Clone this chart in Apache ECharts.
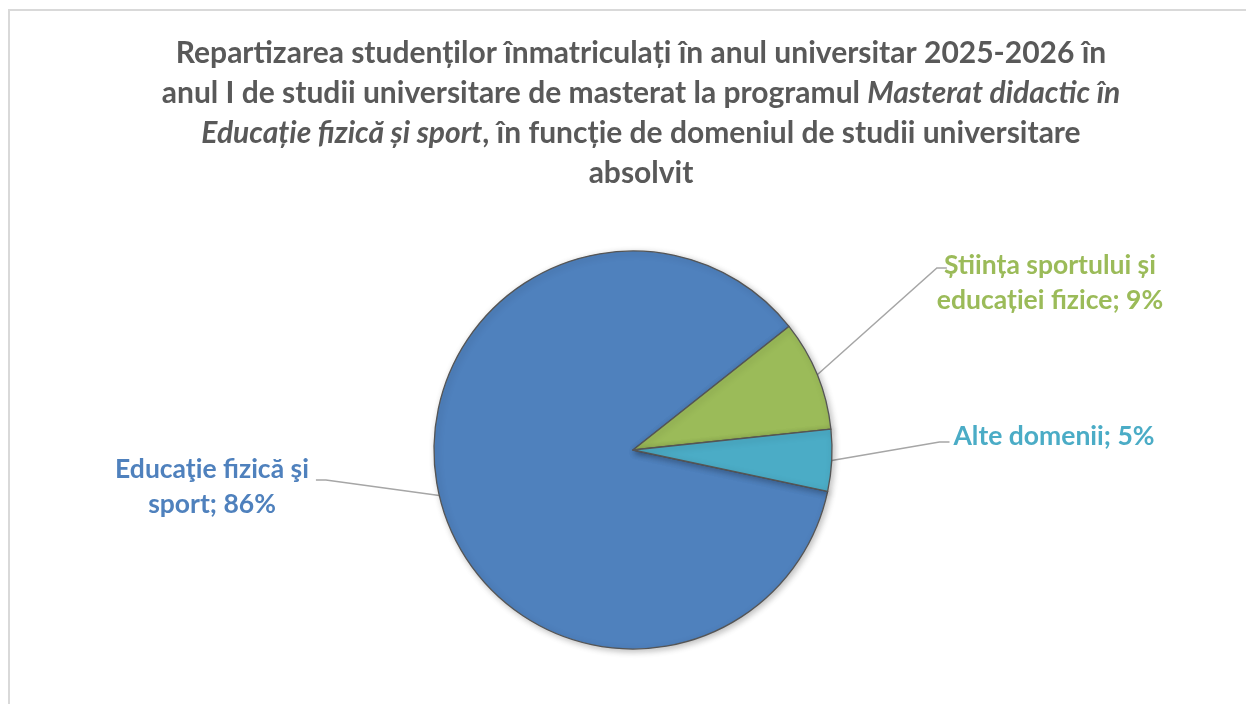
<!DOCTYPE html>
<html>
<head>
<meta charset="utf-8">
<script src="https://cdn.jsdelivr.net/npm/echarts@6/dist/echarts.min.js"></script>
<style>
  html, body { margin: 0; padding: 0; background: #fff; }
  #chart { width: 1246px; height: 704px; }
</style>
</head>
<body>
<div id="chart"></div>
<script>
// date
const categories = ['Educaţie fizică şi\nsport', 'Știința sportului și\neducației fizice', 'Alte domenii'];
const values = [86, 9, 5];

const titleLines = [
    'Repartizarea studenților înmatriculați în anul universitar 2025-2026 în',
    'anul I de studii universitare de masterat la programul {i|Masterat didactic în}',
    '{i|Educație fizică și sport}, în funcție de domeniul de studii universitare',
    'absolvit'
];

const colors = ['#4F81BD', '#9BBB59', '#4BACC6'];
const fontName = 'Lato';

// pozitia etichetelor (centru), capatul liniei si distanta fata de text
const labelPos = [
    { x: 212, y: 487, lineY: 480, side: 'left', gap: 7 },
    { x: 1050, y: 283, lineY: 268, side: 'right', gap: -10 },
    { x: 1054, y: 436, lineY: 442, side: 'right', gap: 4 }
];

let chart = echarts.init(document.getElementById('chart'));

let option = {
    backgroundColor: '#fff',
    color: colors,
    graphic: [{
        type: 'rect',
        shape: { x: 9, y: 10, width: 1400, height: 900 },
        style: { fill: 'none', stroke: '#d9d9d9', lineWidth: 2 },
        silent: true
    }],
    title: {
        text: titleLines.join('\n'),
        left: 636,
        top: 28,
        textAlign: 'center',
        textStyle: {
            color: '#595959',
            fontFamily: fontName,
            fontWeight: 'bold',
            fontSize: 30,
            lineHeight: 40,
            rich: {
                i: {
                    color: '#595959',
                    fontFamily: fontName,
                    fontWeight: 'bold',
                    fontStyle: 'italic',
                    fontSize: 30,
                    lineHeight: 40
                }
            }
        }
    },
    series: [{
        type: 'pie',
        center: [633, 450],
        radius: 199,
        startAngle: -12,
        clockwise: true,
        avoidLabelOverlap: false,
        data: categories.map((name, i) => ({
            name: name,
            value: values[i],
            label: { color: colors[i] }
        })),
        itemStyle: {
            borderColor: '#555',
            borderWidth: 1.3,
            shadowBlur: 6,
            shadowColor: 'rgba(0,0,0,0.25)',
            shadowOffsetX: 2,
            shadowOffsetY: 2
        },
        label: {
            show: true,
            position: 'outside',
            fontFamily: fontName,
            fontWeight: 'bold',
            fontSize: 26.5,
            lineHeight: 35,
            align: 'center',
            formatter: (p) => p.name + '; ' + Math.round(p.percent) + '%'
        },
        labelLine: {
            show: true,
            length: 20,
            length2: 10,
            lineStyle: { color: '#a6a6a6', width: 1.5 }
        },
        labelLayout: function (params) {
            let pos = labelPos[params.dataIndex];
            let w = params.labelRect.width;
            let start = params.labelLinePoints ? params.labelLinePoints[0] : [633, 450];
            let endX, elbowX;
            if (pos.side === 'left') {
                endX = pos.x + w / 2 + pos.gap;
                elbowX = endX + 10;
            } else {
                endX = pos.x - w / 2 - pos.gap;
                elbowX = endX - 10;
            }
            return {
                x: pos.x,
                y: pos.y,
                align: 'center',
                verticalAlign: 'middle',
                labelLinePoints: [start, [elbowX, pos.lineY], [endX, pos.lineY]]
            };
        }
    }]
};

chart.setOption(option);
</script>
</body>
</html>
